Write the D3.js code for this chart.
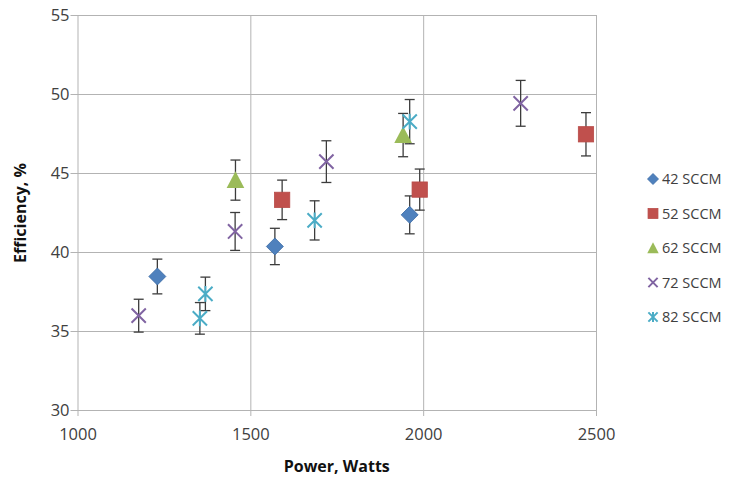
<!DOCTYPE html>
<html>
<head>
<meta charset="utf-8">
<script src="https://cdn.jsdelivr.net/npm/d3@7"></script>
<style>
  body { margin: 0; background: #fff; }
  text { font-family: "Open Sans", "Lato", sans-serif; fill: #404040; }
</style>
</head>
<body>
<svg width="730" height="481"></svg>
<script>
// series data: power (W), efficiency (%), error (+/-)
const seriesNames = ["42 SCCM", "52 SCCM", "62 SCCM", "72 SCCM", "82 SCCM"];
const seriesColors = ["#4F81BD", "#C0504D", "#9BBB59", "#8064A2", "#4BACC6"];
const seriesShapes = ["diamond", "square", "triangle", "x", "star"];

const power42 = [1231, 1571, 1961];
const eff42 = [38.45, 40.35, 42.35];
const err42 = [1.1, 1.15, 1.2];

const power52 = [1592, 1990, 2471];
const eff52 = [43.3, 43.95, 47.45];
const err52 = [1.25, 1.3, 1.37];

const power62 = [1457, 1942];
const eff62 = [44.55, 47.4];
const err62 = [1.27, 1.37];

const power72 = [1177, 1456, 1720, 2282];
const eff72 = [35.97, 41.3, 45.72, 49.41];
const err72 = [1.04, 1.2, 1.32, 1.45];

const power82 = [1354, 1370, 1686, 1961];
const eff82 = [35.8, 37.35, 42.0, 48.25];
const err82 = [1.0, 1.06, 1.24, 1.4];

const xTicks = [1000, 1500, 2000, 2500];
const yTicks = [30, 35, 40, 45, 50, 55];

const allPower = [power42, power52, power62, power72, power82];
const allEff = [eff42, eff52, eff62, eff72, eff82];
const allErr = [err42, err52, err62, err72, err82];

const series = seriesNames.map((name, i) => ({
    name: name,
    color: seriesColors[i],
    shape: seriesShapes[i],
    points: allPower[i].map((p, j) => ({ x: p, y: allEff[i][j], e: allErr[i][j] }))
}));

const svg = d3.select("svg");
const plotL = 77.5, plotR = 596, plotT = 15, plotB = 410;

const x = d3.scaleLinear().domain([1000, 2500]).range([plotL, plotR]);
const y = d3.scaleLinear().domain([30, 55]).range([plotB, plotT]);

const gridColor = "#b3b3b3";

// horizontal grid lines (extend left as tick marks)
svg.append("g")
    .attr("transform", `translate(${plotR},0)`)
    .call(d3.axisLeft(y).tickValues(yTicks).tickSize(plotR - plotL + 7).tickFormat(""))
    .call(g => g.select(".domain").remove())
    .call(g => g.selectAll("line").attr("stroke", gridColor));

// vertical grid lines (extend down as tick marks)
svg.append("g")
    .attr("transform", `translate(0,${plotT})`)
    .call(d3.axisBottom(x).tickValues(xTicks).tickSize(plotB - plotT + 6).tickFormat(""))
    .call(g => g.select(".domain").remove())
    .call(g => g.selectAll("line").attr("stroke", gridColor));

// tick labels
svg.append("g")
    .attr("transform", `translate(${plotL - 8},0)`)
    .call(d3.axisLeft(y).tickValues(yTicks).tickSize(0).tickPadding(0).tickFormat(d3.format("d")))
    .call(g => g.select(".domain").remove())
    .call(g => g.selectAll("text")
        .style("font-size", "16.5px")
        .attr("fill", "#404040"));

svg.append("g")
    .attr("transform", `translate(0,${plotB + 18})`)
    .call(d3.axisBottom(x).tickValues(xTicks).tickSize(0).tickPadding(0).tickFormat(d3.format("d")))
    .call(g => g.select(".domain").remove())
    .call(g => g.selectAll("text")
        .style("font-size", "16.5px")
        .attr("fill", "#404040"));

// axis titles
svg.append("text")
    .attr("x", (plotL + plotR) / 2)
    .attr("y", 472)
    .attr("text-anchor", "middle")
    .style("font-size", "16px")
    .style("font-weight", "bold")
    .style("fill", "#111")
    .text("Power, Watts");

svg.append("text")
    .attr("transform", "translate(26,213) rotate(-90)")
    .attr("text-anchor", "middle")
    .style("font-size", "16px")
    .style("font-weight", "bold")
    .style("fill", "#111")
    .text("Efficiency, %");

// marker drawing
function drawMarker(g, shape, color, size) {
    const s = size;
    if (shape === "diamond") {
        g.append("path")
            .attr("d", `M0,${-s / 2}L${s / 2},0L0,${s / 2}L${-s / 2},0Z`)
            .attr("fill", color).attr("stroke", "#3a6aa5").attr("stroke-width", 0.8);
    } else if (shape === "square") {
        const h = s * 0.45;
        g.append("rect")
            .attr("x", -h).attr("y", -h).attr("width", 2 * h).attr("height", 2 * h)
            .attr("fill", color).attr("stroke", "#b84a47").attr("stroke-width", 0.8);
    } else if (shape === "triangle") {
        const h = s * 0.52;
        g.append("path")
            .attr("d", `M0,${-h}L${h},${h * 0.9}L${-h},${h * 0.9}Z`)
            .attr("fill", color);
    } else if (shape === "x") {
        const h = s * 0.42;
        g.append("path")
            .attr("d", `M${-h},${-h}L${h},${h}M${h},${-h}L${-h},${h}`)
            .attr("stroke", color).attr("stroke-width", 2);
    } else if (shape === "star") {
        const h = s * 0.42;
        g.append("path")
            .attr("d", `M${-h},${-h}L${h},${h}M${h},${-h}L${-h},${h}M0,${-h * 1.1}L0,${h * 1.1}`)
            .attr("stroke", color).attr("stroke-width", 2);
    }
}

// error bars
const errColor = "#3c3c3c";
const cap = 5;
series.forEach(s => {
    const eg = svg.append("g");
    s.points.forEach(p => {
        eg.append("line")
            .attr("x1", x(p.x)).attr("x2", x(p.x))
            .attr("y1", y(p.y + p.e)).attr("y2", y(p.y - p.e))
            .attr("stroke", errColor).attr("stroke-width", 1.3);
        [p.y + p.e, p.y - p.e].forEach(v => {
            eg.append("line")
                .attr("x1", x(p.x) - cap).attr("x2", x(p.x) + cap)
                .attr("y1", y(v)).attr("y2", y(v))
                .attr("stroke", errColor).attr("stroke-width", 1.3);
        });
    });
});

// markers
series.forEach(s => {
    s.points.forEach(p => {
        const g = svg.append("g").attr("transform", `translate(${x(p.x)},${y(p.y)})`);
        drawMarker(g, s.shape, s.color, 17);
    });
});

// legend
const legendY = d3.scalePoint().domain(seriesNames).range([179, 317]);
series.forEach(s => {
    const g = svg.append("g").attr("transform", `translate(653,${legendY(s.name)})`);
    drawMarker(g, s.shape, s.color, 11);
    svg.append("text")
        .attr("x", 662)
        .attr("y", legendY(s.name))
        .attr("dy", "0.36em")
        .style("font-size", "14.5px")
        .text(s.name);
});
</script>
</body>
</html>
